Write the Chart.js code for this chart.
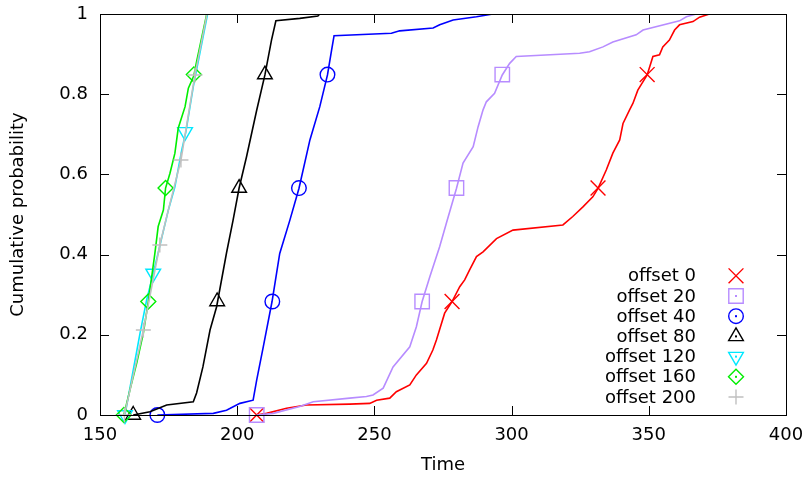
<!DOCTYPE html>
<html>
<head>
<meta charset="utf-8">
<script src="https://cdn.jsdelivr.net/npm/chart.js@4.4.1/dist/chart.umd.min.js"></script>
<style>
  html, body { margin: 0; padding: 0; background: #fff; }
  #wrap { width: 808px; height: 479px; }
</style>
</head>
<body>
<div id="wrap"><canvas id="cdfChart" width="808" height="479"></canvas></div>
<script>
// series labels
const seriesNames = ['offset 0', 'offset 20', 'offset 40', 'offset 80', 'offset 120', 'offset 160', 'offset 200'];

// axis ticks
const timeTicks = [150, 200, 250, 300, 350, 400];
const probTicks = [0, 0.2, 0.4, 0.6, 0.8, 1];

// offset 0
const time0 = [207.1, 210.7, 218.0, 225.2, 241.0, 248.3, 250.8, 255.6, 258.0, 262.9, 265.3, 269.0, 271.3, 272.6, 275.6, 278.3, 281.1, 282.9, 284.7, 287.2, 289.6, 294.5, 300.5, 318.7, 322.3, 326.0, 329.6, 331.5, 334.5, 336.9, 339.4, 340.6, 343.0, 344.2, 346.0, 349.4, 351.5, 353.9, 355.1, 357.5, 359.4, 361.2, 366.1, 368.5, 372.1];
const prob0 = [0, 0.004, 0.017, 0.025, 0.027, 0.029, 0.037, 0.042, 0.058, 0.075, 0.1, 0.129, 0.162, 0.187, 0.254, 0.283, 0.32, 0.337, 0.362, 0.395, 0.407, 0.44, 0.461, 0.474, 0.495, 0.519, 0.544, 0.565, 0.611, 0.653, 0.686, 0.727, 0.761, 0.777, 0.81, 0.848, 0.894, 0.898, 0.918, 0.935, 0.96, 0.973, 0.981, 0.992, 1];
const markTime0 = [207.1, 278.3, 331.5, 349.4];
const markProb0 = [0, 0.283, 0.566, 0.849];

// offset 20
const time20 = [207.1, 213.1, 222.8, 227.7, 241.0, 247.1, 249.5, 253.2, 256.8, 262.9, 265.3, 267.4, 270.2, 273.8, 276.3, 279.9, 282.3, 286.0, 287.8, 289.6, 290.8, 293.8, 296.6, 299.3, 301.7, 324.8, 328.4, 333.3, 336.9, 345.4, 347.9, 361.2, 363.7, 367.3];
const prob20 = [0, 0.004, 0.021, 0.033, 0.042, 0.046, 0.05, 0.067, 0.12, 0.17, 0.22, 0.283, 0.345, 0.42, 0.48, 0.565, 0.628, 0.669, 0.719, 0.761, 0.781, 0.802, 0.848, 0.877, 0.894, 0.902, 0.906, 0.918, 0.93, 0.948, 0.96, 0.983, 0.993, 1];
const markTime20 = [207.1, 267.4, 279.9, 296.6];
const markProb20 = [0, 0.283, 0.566, 0.849];

// offset 40
const time40 = [170.9, 191.3, 196.1, 201.0, 205.8, 207.1, 209.5, 212.7, 215.5, 219.2, 222.5, 226.5, 230.1, 232.9, 234.4, 235.3, 256.2, 259.2, 271.4, 273.8, 278.7, 287.2, 293.2];
const prob40 = [0, 0.004, 0.012, 0.029, 0.037, 0.087, 0.17, 0.283, 0.403, 0.486, 0.565, 0.686, 0.769, 0.848, 0.91, 0.946, 0.952, 0.958, 0.965, 0.973, 0.985, 0.993, 1];
const markTime40 = [170.9, 212.8, 222.5, 232.9];
const markProb40 = [0, 0.283, 0.566, 0.849];

// offset 80
const time80 = [162.1, 168.2, 174.3, 184.0, 185.2, 187.5, 190.1, 192.5, 196.1, 198.5, 200.7, 203.4, 207.1, 210.1, 212.5, 214.1, 222.8, 229.4, 230.1];
const prob80 = [0, 0.008, 0.025, 0.033, 0.055, 0.12, 0.212, 0.27, 0.404, 0.486, 0.566, 0.644, 0.76, 0.848, 0.935, 0.983, 0.989, 0.995, 1];
const markTime80 = [162.1, 192.7, 200.7, 210.1];
const markProb80 = [0, 0.283, 0.566, 0.849];

// offset 120
const time120 = [159.1, 164.6, 167.0, 169.4, 174.9, 177.3, 179.8, 181.3, 184.0, 189.2];
const prob120 = [0, 0.204, 0.287, 0.353, 0.511, 0.569, 0.661, 0.706, 0.819, 1];
const markTime120 = [159.1, 169.4, 181.0];
const markProb120 = [0, 0.353, 0.706];

// offset 160
const time160 = [158.7, 160.9, 163.4, 165.8, 167.6, 170.0, 171.2, 173.1, 173.9, 175.5, 177.3, 178.5, 181.0, 182.2, 184.2, 185.2, 188.9];
const prob160 = [0, 0.062, 0.130, 0.204, 0.283, 0.403, 0.470, 0.511, 0.566, 0.603, 0.653, 0.715, 0.769, 0.815, 0.846, 0.881, 1];
const markTime160 = [158.7, 167.6, 173.9, 184.2];
const markProb160 = [0, 0.283, 0.566, 0.849];

// offset 200
const time200 = [158.9, 165.8, 171.8, 174.9, 179.5, 184.6, 189.0];
const prob200 = [0, 0.212, 0.424, 0.511, 0.636, 0.848, 1];
const markTime200 = [158.9, 165.8, 171.8, 179.5, 184.6];
const markProb200 = [0, 0.212, 0.424, 0.636, 0.848];

const FONT = "'DejaVu Sans', sans-serif";
const FSIZE = 18;
Chart.defaults.font.family = FONT;
Chart.defaults.font.size = FSIZE;
Chart.defaults.color = '#000';

const styles = [
    { color: '#ff0000', point: 'crossRot', radius: 10.5, rotation: 0 },
    { color: '#b78cff', point: 'rect', radius: 10.2, rotation: 0 },
    { color: '#0000ff', point: 'circle', radius: 7.3, rotation: 0 },
    { color: '#000000', point: 'triangle', radius: 8.5, rotation: 0 },
    { color: '#00e8ff', point: 'triangle', radius: 8.5, rotation: 180 },
    { color: '#00ee00', point: 'rectRot', radius: 7.5, rotation: 0 },
    { color: '#c0c0c0', point: 'cross', radius: 7.5, rotation: 0 }
];

const lineTimes = [time0, time20, time40, time80, time120, time160, time200];
const lineProbs = [prob0, prob20, prob40, prob80, prob120, prob160, prob200];
const markTimes = [markTime0, markTime20, markTime40, markTime80, markTime120, markTime160, markTime200];
const markProbs = [markProb0, markProb20, markProb40, markProb80, markProb120, markProb160, markProb200];

const zip = (xs, ys) => xs.map((x, i) => ({ x: x, y: ys[i] }));

const datasets = [];
seriesNames.forEach((name, i) => {
    const st = styles[i];
    datasets.push({
        label: name,
        data: zip(lineTimes[i], lineProbs[i]),
        showLine: true,
        borderColor: st.color,
        borderWidth: 1.6,
        pointRadius: 0,
        order: 2 * (seriesNames.length - i) + 1
    });
    datasets.push({
        label: name + ' points',
        data: zip(markTimes[i], markProbs[i]),
        showLine: false,
        pointStyle: st.point,
        pointRadius: st.radius,
        pointRotation: st.rotation,
        pointBorderColor: st.color,
        pointBackgroundColor: 'rgba(0,0,0,0)',
        pointBorderWidth: 1.4,
        clip: false,
        order: 2 * (seriesNames.length - i)
    });
});

// gnuplot-like frame with inward ticks on all four sides
const framePlugin = {
    id: 'frame',
    afterDatasetsDraw(chart) {
        const { ctx, chartArea: a, scales } = chart;
        const tl = 9;
        ctx.save();
        ctx.strokeStyle = '#000';
        ctx.lineWidth = 1;
        ctx.beginPath();
        timeTicks.forEach(v => {
            const x = Math.round(scales.x.getPixelForValue(v)) + 0.5;
            ctx.moveTo(x, a.bottom); ctx.lineTo(x, a.bottom - tl);
            ctx.moveTo(x, a.top); ctx.lineTo(x, a.top + tl);
        });
        probTicks.forEach(v => {
            const y = Math.round(scales.y.getPixelForValue(v)) + 0.5;
            ctx.moveTo(a.left, y); ctx.lineTo(a.left + tl, y);
            ctx.moveTo(a.right, y); ctx.lineTo(a.right - tl, y);
        });
        ctx.stroke();
        ctx.strokeRect(Math.round(a.left) + 0.5, Math.round(a.top) + 0.5,
            Math.round(a.right - a.left), Math.round(a.bottom - a.top));
        ctx.restore();
    }
};

// key at lower right: right-aligned text, sample point to the right
const keyPlugin = {
    id: 'key',
    afterDraw(chart) {
        const { ctx, chartArea: a } = chart;
        const n = seriesNames.length;
        const rowH = 20.2;
        const textRight = a.right - 90;
        const markX = a.right - 50;
        ctx.save();
        ctx.font = FSIZE + 'px ' + FONT;
        ctx.textAlign = 'right';
        ctx.textBaseline = 'middle';
        seriesNames.forEach((name, i) => {
            const y = a.bottom - 18 - (n - 1 - i) * rowH;
            const st = styles[i];
            ctx.fillStyle = '#000';
            ctx.fillText(name, textRight, y + 1);
            ctx.strokeStyle = st.color;
            ctx.fillStyle = 'rgba(0,0,0,0)';
            ctx.lineWidth = 1.4;
            Chart.helpers.drawPoint(ctx, {
                pointStyle: st.point, radius: st.radius, rotation: st.rotation, borderWidth: 1.4
            }, markX, y);
            if (st.point !== 'cross' && st.point !== 'crossRot') {
                ctx.fillStyle = st.color;
                ctx.fillRect(markX - 1, y - 1, 2, 2);
            }
        });
        ctx.restore();
    }
};

new Chart(document.getElementById('cdfChart'), {
    type: 'scatter',
    data: { datasets: datasets },
    options: {
        responsive: false,
        animation: false,
        events: [],
        layout: { padding: { top: 14, right: 22, left: 0, bottom: 0 } },
        plugins: {
            legend: { display: false },
            tooltip: { enabled: false }
        },
        scales: {
            x: {
                type: 'linear',
                min: 150,
                max: 400,
                afterBuildTicks: s => { s.ticks = timeTicks.map(v => ({ value: v })); },
                afterFit: s => { s.height = 64; s.paddingLeft = 0; s.paddingRight = 0; },
                grid: { display: false, drawTicks: false },
                border: { display: false },
                ticks: { padding: 10, maxRotation: 0, autoSkip: false, callback: v => String(v) },
                title: { display: true, text: 'Time', padding: { top: 0, bottom: 3 } }
            },
            y: {
                type: 'linear',
                min: 0,
                max: 1,
                afterBuildTicks: s => { s.ticks = probTicks.map(v => ({ value: v })); },
                afterFit: s => { s.width = 100; s.paddingTop = 0; s.paddingBottom = 0; },
                grid: { display: false, drawTicks: false },
                border: { display: false },
                ticks: { padding: 12, callback: v => String(v) },
                title: { display: true, text: 'Cumulative probability', padding: { top: 8, bottom: 0 } }
            }
        }
    },
    plugins: [framePlugin, keyPlugin]
});
</script>
</body>
</html>
